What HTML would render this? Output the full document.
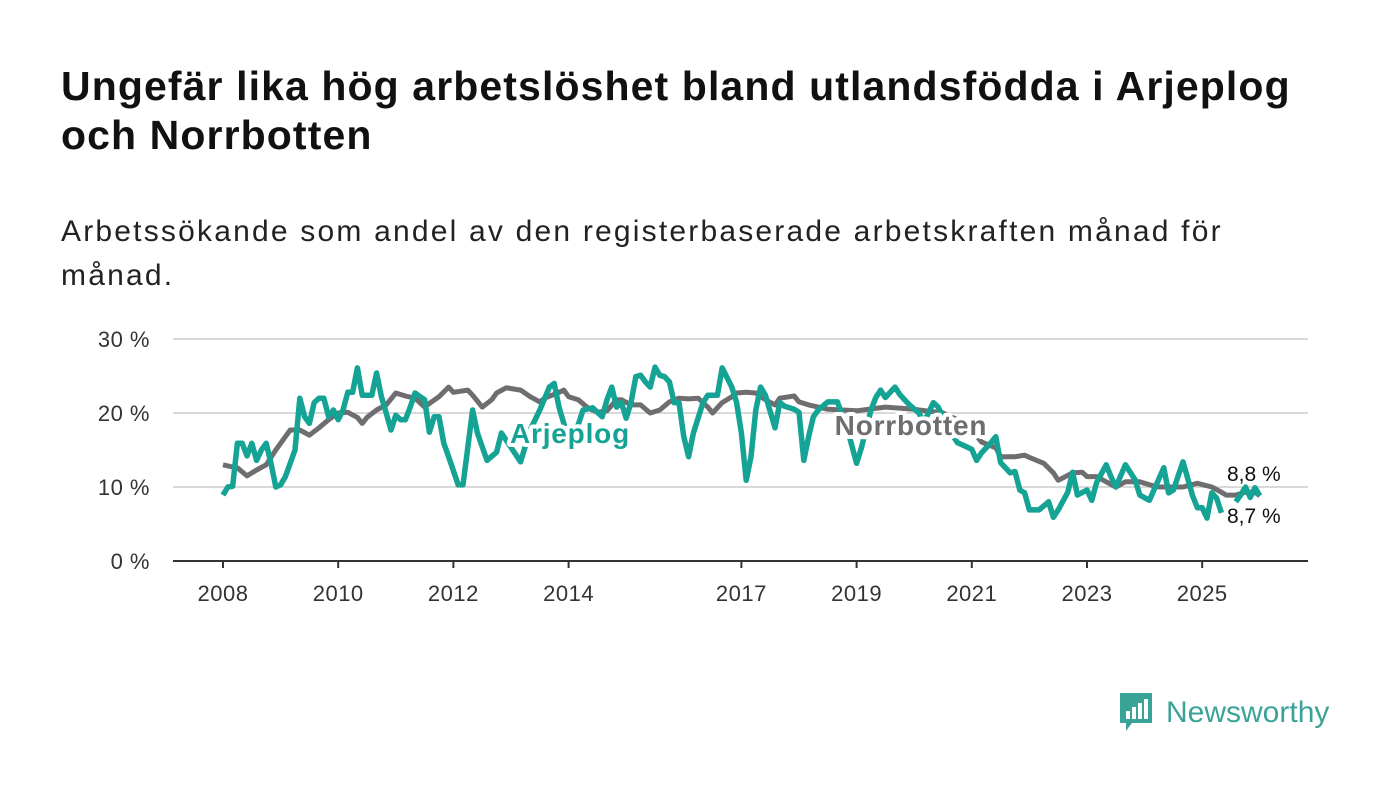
<!DOCTYPE html>
<html><head><meta charset="utf-8">
<style>
body{margin:0;background:#fff;font-family:"Liberation Sans","DejaVu Sans",sans-serif;}
#wrap{position:relative;width:1400px;height:794px;overflow:hidden;}
h1{position:absolute;left:61px;top:62px;margin:0;font-size:41px;line-height:49px;font-weight:bold;color:#111;width:1340px;letter-spacing:1.1px;white-space:nowrap;}
p.sub{position:absolute;left:61px;top:210px;margin:0;font-size:30px;line-height:44px;color:#222;width:1330px;letter-spacing:2.2px;white-space:nowrap;}
</style></head><body>
<div id="wrap">
<h1>Ungefär lika hög arbetslöshet bland utlandsfödda i Arjeplog<br>och Norrbotten</h1>
<p class="sub">Arbetssökande som andel av den registerbaserade arbetskraften månad för<br>månad.</p>
<svg id="chart" width="1400" height="794" style="position:absolute;left:0;top:0"></svg>
<div style="position:absolute;left:1118px;top:691px;display:flex;align-items:center;">
<svg width="36" height="44"><path d="M2 2h32v30H14l-6 8v-8H2z" fill="#3aa398"/><rect x="8" y="20" width="4" height="8" fill="#fff"/><rect x="14" y="16" width="4" height="12" fill="#fff"/><rect x="20" y="12" width="4" height="16" fill="#fff"/><rect x="26" y="8" width="4" height="20" fill="#fff"/></svg>
<span style="font-size:30px;color:#3aa398;margin-left:12px;font-weight:500">Newsworthy</span></div>
</div>
<script>
const arjMonths=[0,1,2,3,4,5,6,7,8,9,10,11,12,13,15,16,17,18,19,20,21,22,23,24,25,26,27,28,29,31,32,33,34,35,36,37,38,39,40,42,43,44,45,46,47,49,50,52,53,55,57,58,62,64,66,68,69,70,72,74,75,77,79,80,81,82,83,84,85,86,87,88,89,90,91,92,93,94,95,96,97,98,100,101,103,104,106,107,108,109,110,111,112,113,115,116,117,119,120,121,122,123,124,126,128,130,132,133,135,136,137,138,140,141,142,143,145,146,148,149,150,152,153,155,156,157,158,160,161,162,164,165,166,167,168,170,172,173,174,176,177,178,180,181,182,184,185,186,188,190,191,193,196,197,198,200,202,203,204,205,206,207,208,209,211,212,213,214,215,216];
const arjValues=[8.9,10.0,10.1,15.9,15.9,14.2,15.9,13.6,15.0,15.9,13.2,10.0,10.3,11.4,15.0,22.0,19.5,18.6,21.4,22.0,22.0,19.5,20.4,19.1,20.4,22.8,22.8,26.1,22.4,22.4,25.4,22.2,20.0,17.7,19.7,19.1,19.1,20.8,22.7,21.8,17.4,19.5,19.5,15.9,14.1,10.3,10.3,20.4,17.3,13.6,14.7,17.3,13.4,17.7,20.4,23.5,24.0,20.8,16.4,18.4,20.4,20.7,19.5,21.8,23.5,20.8,21.4,19.3,21.4,24.9,25.1,24.2,23.5,26.2,25.1,24.9,24.2,21.4,21.4,16.8,14.1,17.3,21.4,22.4,22.4,26.1,23.5,21.4,17.3,10.9,14.1,20.4,23.5,22.4,18.0,21.4,20.9,20.5,20.1,13.6,16.8,19.5,20.4,21.5,21.5,18.0,13.2,15.3,20.4,22.1,23.1,22.1,23.5,22.5,21.8,21.1,20.0,18.7,21.4,20.8,19.5,17.0,16.0,15.4,15.1,13.6,14.6,16.0,16.8,13.3,11.9,12.1,9.6,9.2,6.9,6.9,8.0,5.9,6.9,9.3,12.0,8.9,9.6,8.2,10.6,13.0,11.4,10.0,13.0,11.0,8.9,8.2,12.6,9.2,9.6,13.4,8.8,7.2,7.2,5.8,9.2,8.5,6.5,null,8.0,8.9,10.0,8.6,9.9,8.8];
const norMonths=[0,2,3,5,7,9,11,14,16,18,20,22,24,26,28,29,30,32,34,36,38,40,42,43,45,47,48,51,52,54,56,57,59,62,64,66,67,70,71,72,74,76,78,80,82,83,85,87,89,91,93,95,97,99,101,102,104,106,107,109,111,113,115,116,119,120,122,124,126,132,138,144,150,155,158,161,162,164,165,167,168,171,173,174,177,179,180,182,184,186,188,191,193,195,197,200,203,206,208,209,211,213,215,216];
const norValues=[13.0,12.7,12.6,11.5,12.3,13.0,15.0,17.7,17.7,17.0,18.0,19.1,20.0,20.1,19.4,18.6,19.4,20.4,21.1,22.7,22.3,22.0,20.8,21.3,22.2,23.5,22.8,23.1,22.4,20.8,21.8,22.7,23.4,23.1,22.2,21.5,22.0,22.8,23.1,22.2,21.8,20.7,20.1,20.3,21.8,21.8,21.1,21.1,20.0,20.4,21.5,22.0,21.9,22.0,20.8,20.0,21.4,22.2,22.7,22.8,22.7,21.8,21.1,22.0,22.3,21.5,21.1,20.8,20.5,20.3,20.8,20.5,20.0,18.5,16.1,15.3,14.1,14.1,14.1,14.3,14.0,13.2,11.9,10.9,11.9,12.0,11.4,11.4,10.7,10.0,10.7,10.7,10.3,10.0,10.0,10.0,10.5,10.0,9.3,8.9,8.9,9.3,9.3,8.8];
const yTicks=[0,10,20,30];
const yTickLabels=["0 %","10 %","20 %","30 %"];
const xTickYears=[2008,2010,2012,2014,2017,2019,2021,2023,2025];
const endLabels=["8,8 %","8,7 %"];

const NS="http://www.w3.org/2000/svg";
const svg=document.getElementById('chart');
const X0=223,PXM=57.6/12,Y0=561,PYU=7.4,L=173,R=1308;
const xm=m=>X0+m*PXM;
const xy=y=>X0+(y-2008)*57.6;
const yv=v=>Y0-v*PYU;
function mk(t,a){const e=document.createElementNS(NS,t);for(const k in a)e.setAttribute(k,a[k]);svg.appendChild(e);return e;}

yTicks.forEach((t,i)=>{
  if(t>0){const g=mk('line',{x1:L,x2:R,y1:yv(t),y2:yv(t),stroke:'#d9d9d9','stroke-width':2});
  
  }
  const tx=mk('text',{x:150,y:yv(t)+8,'text-anchor':'end','font-size':22,fill:'#333','letter-spacing':'0.5','font-family':'Liberation Sans, sans-serif'});
  tx.textContent=yTickLabels[i];
  
  
});
const ax=mk('line',{x1:L,x2:R,y1:Y0,y2:Y0,stroke:'#333','stroke-width':2});


xTickYears.forEach(yr=>{
  const tk=mk('line',{x1:xy(yr),x2:xy(yr),y1:Y0,y2:Y0+7,stroke:'#333','stroke-width':2});
  
  
  const tx=mk('text',{x:xy(yr),y:601,'text-anchor':'middle','font-size':22,fill:'#333','letter-spacing':'0.5','font-family':'Liberation Sans, sans-serif'});
  tx.textContent=yr;
  
  
});
function pathFor(ms,vs){let d='',pen=false;ms.forEach((m,i)=>{const v=vs[i];if(v==null){pen=false;return;}d+=(pen?'L':'M')+xm(m).toFixed(1)+' '+yv(v).toFixed(1);pen=true;});return d;}
const np=mk('path',{d:pathFor(norMonths,norValues),fill:'none',stroke:'#6f6d70','stroke-width':5,'stroke-linejoin':'round'});


const ap=mk('path',{d:pathFor(arjMonths,arjValues),fill:'none',stroke:'#14a394','stroke-width':5.5,'stroke-linejoin':'round'});



const la=mk('text',{x:570,y:443,'text-anchor':'middle','font-size':28,'font-weight':'bold',fill:'#14a394',stroke:'#fff','stroke-width':8,'paint-order':'stroke','stroke-linejoin':'round','letter-spacing':'0.8','font-family':'Liberation Sans, sans-serif'});
la.textContent='Arjeplog';


const ln=mk('text',{x:911,y:435,'text-anchor':'middle','font-size':28,'font-weight':'bold',fill:'#6f6d70',stroke:'#fff','stroke-width':8,'paint-order':'stroke','stroke-linejoin':'round','letter-spacing':'0.8','font-family':'Liberation Sans, sans-serif'});
ln.textContent='Norrbotten';


const e1=mk('text',{x:1227,y:481,'font-size':21,fill:'#111',stroke:'#fff','stroke-width':5,'paint-order':'stroke','font-family':'Liberation Sans, sans-serif'});
e1.textContent=endLabels[0];


const e2=mk('text',{x:1227,y:523,'font-size':21,fill:'#111',stroke:'#fff','stroke-width':5,'paint-order':'stroke','font-family':'Liberation Sans, sans-serif'});
e2.textContent=endLabels[1];


</script>
</body></html>
